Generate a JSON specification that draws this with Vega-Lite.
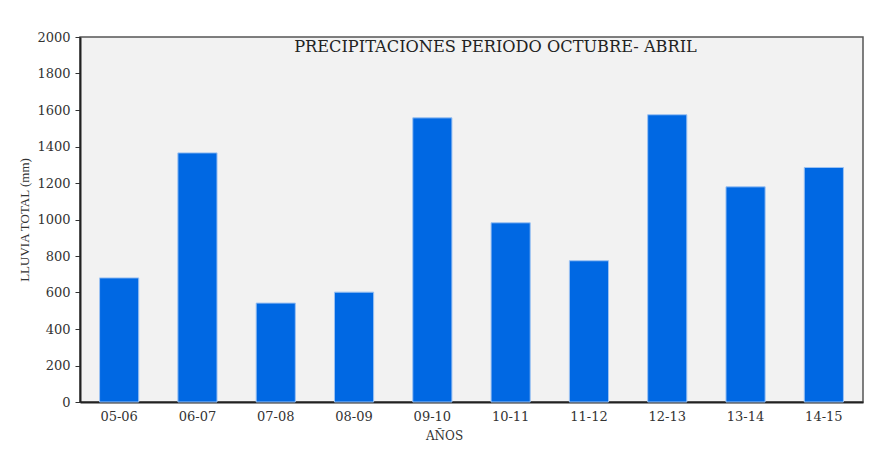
{
  "$schema": "https://vega.github.io/schema/vega-lite/v6.json",
  "width": 783,
  "height": 365,
  "autosize": {"type": "none"},
  "padding": {"left": 80, "top": 37, "right": 9, "bottom": 52},
  "background": "#ffffff",
  "title": {
    "text": "PRECIPITACIONES PERIODO OCTUBRE- ABRIL",
    "orient": "top",
    "anchor": "middle",
    "offset": -24,
    "dx": 24,
    "font": "DejaVu Serif",
    "fontSize": 16.2,
    "fontWeight": "normal",
    "color": "#222222"
  },
  "data": {
    "values": [
      {"periodo": "05-06", "lluvia": 680},
      {"periodo": "06-07", "lluvia": 1365},
      {"periodo": "07-08", "lluvia": 542},
      {"periodo": "08-09", "lluvia": 602},
      {"periodo": "09-10", "lluvia": 1557},
      {"periodo": "10-11", "lluvia": 982},
      {"periodo": "11-12", "lluvia": 774},
      {"periodo": "12-13", "lluvia": 1574},
      {"periodo": "13-14", "lluvia": 1179},
      {"periodo": "14-15", "lluvia": 1285}
    ]
  },
  "mark": {"type": "bar", "color": "#0068E3", "stroke": "#9cc2f2", "strokeWidth": 1},
  "encoding": {
    "x": {
      "field": "periodo",
      "type": "nominal",
      "sort": null,
      "scale": {"paddingInner": 0.5, "paddingOuter": 0.25},
      "axis": {
        "title": "AÑOS",
        "labelAngle": 0,
        "ticks": false,
        "labelPadding": 8,
        "titlePadding": 7,
        "titleX": 364,
        "domainColor": "#222222",
        "domainWidth": 2
      }
    },
    "y": {
      "field": "lluvia",
      "type": "quantitative",
      "scale": {"domain": [0, 2000], "nice": false},
      "axis": {
        "title": "LLUVIA TOTAL (mm)",
        "titleFont": "Liberation Serif",
        "titleFontSize": 13,
        "values": [0, 200, 400, 600, 800, 1000, 1200, 1400, 1600, 1800, 2000],
        "format": "d",
        "grid": false,
        "tickSize": 5,
        "tickColor": "#333333",
        "labelPadding": 5,
        "titlePadding": 5,
        "domainColor": "#222222",
        "domainWidth": 2
      }
    }
  },
  "config": {
    "view": {"fill": "#f2f2f2", "stroke": "#555555", "strokeWidth": 1.5},
    "axis": {
      "labelFont": "DejaVu Serif",
      "labelFontSize": 13,
      "labelColor": "#333333",
      "titleFont": "DejaVu Serif",
      "titleFontSize": 12,
      "titleFontWeight": "normal",
      "titleColor": "#333333"
    }
  }
}
